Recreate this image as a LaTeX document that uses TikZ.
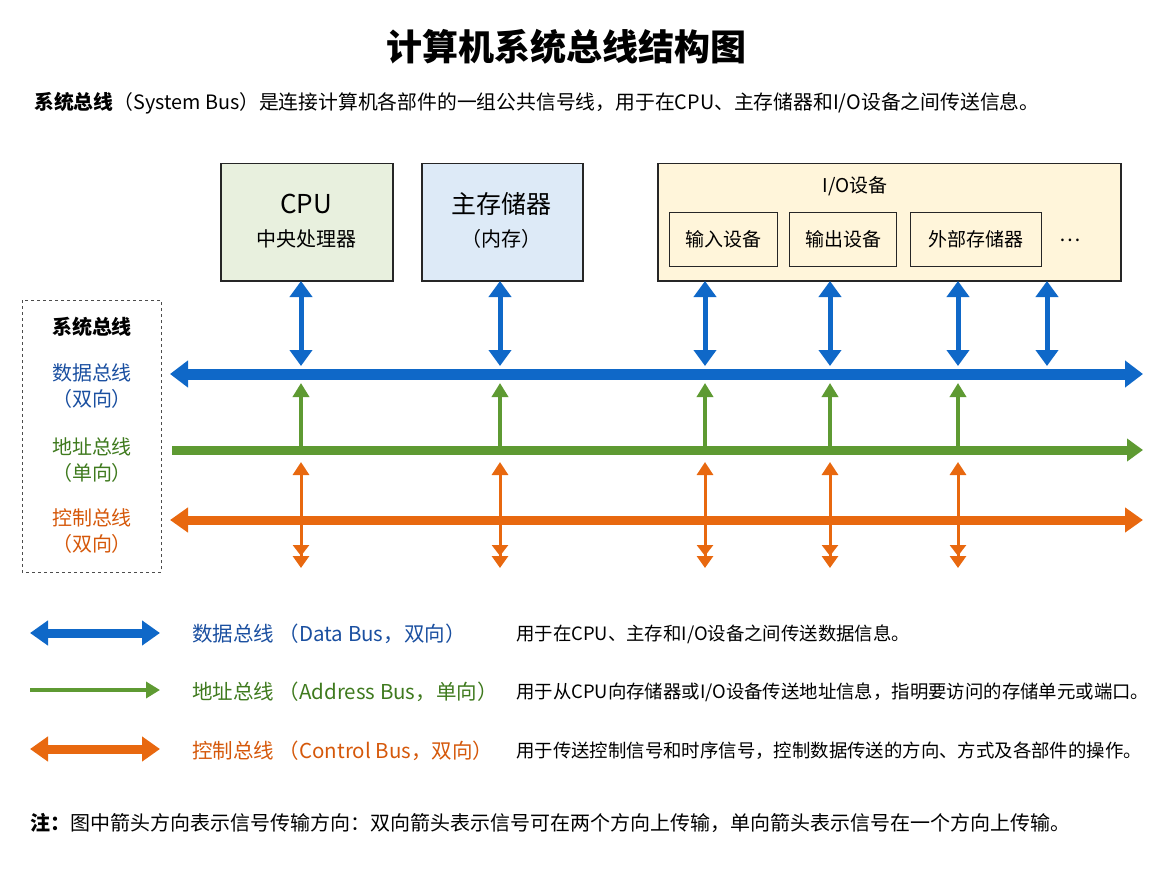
\documentclass[tikz,border=0pt]{standalone}
\usepackage{fontspec}
\setmainfont{Noto Sans CJK SC}
\usetikzlibrary{arrows.meta}
\definecolor{bl}{HTML}{0F68C8}
\definecolor{gr}{HTML}{5E9A32}
\definecolor{orr}{HTML}{E8680F}
\definecolor{txb}{HTML}{1A4FA0}
\definecolor{txg}{HTML}{3F7A1E}
\definecolor{txo}{HTML}{D5580A}
\definecolor{fcpu}{HTML}{E8F0DE}
\definecolor{fmem}{HTML}{DDEAF7}
\definecolor{fio}{HTML}{FFF5DA}
\begin{document}
\begin{tikzpicture}[x=1pt,y=-1pt,
 box/.style={draw=black!85,line width=1.5pt,minimum height=117pt,anchor=north west},
 sub/.style={draw=black!85,line width=1.2pt,minimum height=54pt,anchor=north west,font=\fontsize{19}{22}\selectfont},
 bus/.style={line width=11pt},
 txt/.style={font=\fontsize{18.4}{22}\selectfont,anchor=west,inner sep=0},
 lab/.style={font=\fontsize{20}{26}\selectfont,align=center}]
\useasboundingbox (0,0) rectangle (1168,880);
\node (title) at (566,47) {\fontsize{36}{40}\selectfont\bfseries 计算机系统总线结构图};
\node[txt,font=\fontsize{19.8}{22}\selectfont] (intro) at (34,103) {\textbf{系统总线}（System Bus）是连接计算机各部件的一组公共信号线，用于在CPU、主存储器和I/O设备之间传送信息。};
% boxes
\node[box,fill=fcpu,minimum width=172pt] (cpu) at (220,163) {};
\node[lab] at (306,204) {\fontsize{26}{28}\selectfont CPU};
\node[lab] at (306,239) {中央处理器};
\node[box,fill=fmem,minimum width=161pt] (mem) at (421,163) {};
\node[lab] at (501,204) {\fontsize{25}{28}\selectfont 主存储器};
\node[lab] at (501,239) {（内存）};
\node[box,fill=fio,minimum width=463pt] (io) at (657,163) {};
\node[lab] at (855,186) {\fontsize{19}{22}\selectfont I/O设备};
\node[sub,minimum width=108pt] (in) at (669,212) {输入设备};
\node[sub,minimum width=107pt] (out) at (789,212) {输出设备};
\node[sub,minimum width=131pt] (ext) at (910,212) {外部存储器};
\node (dots) at (1070,240) {\fontsize{20}{22}\selectfont …};
% side box
\draw[dashed,black!70,line width=0.8pt] (22,300) rectangle (161,572);
\node[lab] at (92,327) {\bfseries 系统总线};
\node[lab,text=txb] at (92,386) {数据总线\\（双向）};
\node[lab,text=txg] at (92,460) {地址总线\\（单向）};
\node[lab,text=txo] at (92,531) {控制总线\\（双向）};
% buses
\coordinate (d1) at (170,374); \coordinate (d2) at (1143,374);
\coordinate (a1) at (172,450); \coordinate (a2) at (1143,450);
\coordinate (c1) at (170,520); \coordinate (c2) at (1143,520);
\draw[bus,bl,{Triangle[width=26pt,length=18pt]}-{Triangle[width=26pt,length=18pt]}] (d1) -- (d2);
\draw[line width=9pt,gr,-{Triangle[width=22pt,length=16pt]}] (a1) -- (a2);
\draw[line width=9pt,orr,{Triangle[width=24pt,length=18pt]}-{Triangle[width=24pt,length=18pt]}] (c1) -- (c2);
% verticals
\foreach \x in {301,500,705,830,958,1047}{
  \draw[line width=5pt,bl,{Triangle[width=22pt,length=16pt]}-{Triangle[width=22pt,length=16pt]}] (\x,281) -- (\x,366);
}
\foreach \x in {301,500,705,830,958}{
  \draw[line width=3.5pt,gr,-{Triangle[width=16pt,length=14pt]}] (\x,446) -- (\x,383);
  \draw[line width=3pt,orr,{Triangle[width=16pt,length=13pt]}-{Triangle[width=16pt,length=11pt]Triangle[width=16pt,length=12pt]}] (\x,462) -- (\x,568);
}
% legend
\draw[line width=9pt,bl,{Triangle[width=24pt,length=18pt]}-{Triangle[width=24pt,length=18pt]}] (30,633) -- (160,633);
\draw[line width=4pt,gr,-{Triangle[width=16pt,length=14pt]}] (30,690) -- (160,690);
\draw[line width=9pt,orr,{Triangle[width=24pt,length=18pt]}-{Triangle[width=24pt,length=18pt]}] (30,749) -- (160,749);
\node[txt,text=txb,font=\fontsize{20.5}{24}\selectfont] at (192,634) {数据总线\ （Data Bus，双向）};
\node[txt,text=txg,font=\fontsize{20.5}{24}\selectfont] at (192,692) {地址总线\ （Address Bus，单向）};
\node[txt,text=txo,font=\fontsize{20.5}{24}\selectfont] at (192,751) {控制总线\ （Control Bus，双向）};
\node[txt] at (516,634) {用于在CPU、主存和I/O设备之间传送数据信息。};
\node[txt] at (516,692) {用于从CPU向存储器或I/O设备传送地址信息，指明要访问的存储单元或端口。};
\node[txt] at (516,751) {用于传送控制信号和时序信号，控制数据传送的方向、方式及各部件的操作。};
\node[txt,font=\fontsize{20}{22}\selectfont] at (30,823) {\textbf{注：}图中箭头方向表示信号传输方向：双向箭头表示信号可在两个方向上传输，单向箭头表示信号在一个方向上传输。};
\end{tikzpicture}
\end{document}
